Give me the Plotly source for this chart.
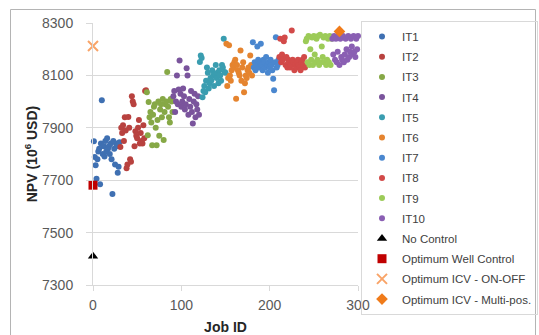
import plotly.graph_objects as go

# ---- data ----
series_names = ["IT1", "IT2", "IT3", "IT4", "IT5", "IT6", "IT7", "IT8", "IT9", "IT10"]
series_colors = ["#3f70b2", "#b8423f", "#86a846", "#7a549c", "#3a9db0",
                 "#e5842f", "#4a87cf", "#d24a49", "#9ccb58", "#8a5fb3"]

it1 = [7849, 7789, 7757, 7706, 7780, 7810, 7820, 7685, 7840, 8005, 7800, 7830, 7790, 7850, 7810,
       7860, 7820, 7830, 7800, 7840, 7780, 7647, 7850, 7820, 7760, 7840, 7830, 7728, 7751, 7845]
it2 = [7827, 7900, 7880, 7910, 7850, 7940, 7890, 7746, 7760, 7941, 7900, 7780, 7770, 8020, 8000,
       7990, 7830, 7887, 7870, 7860, 7900, 7930, 7840, 7880, 7850, 7840, 7910, 7860, 8040, 8043]
it3 = [8036, 7872, 7998, 7940, 7960, 7920, 7833, 7950, 7980, 7990, 7900, 7833, 7930, 8000, 7870,
       7970, 7990, 7940, 8010, 7853, 7960, 7990, 8000, 8113, 7980, 7940, 7920, 8010, 8000, 7960]
it4 = [8020, 8040, 7960, 8000, 8100, 7990, 8046, 8157, 8030, 7980, 8000, 8050, 8020, 7970, 7990,
       8127, 8100, 7950, 8010, 7980, 8040, 7960, 7916, 8000, 8030, 7940, 7990, 7970, 8020, 7950]
it5 = [8151, 8176, 8166, 8017, 8040, 8060, 8036, 8080, 8130, 8110, 8050, 8070, 8090, 8081, 8120,
       8100, 8060, 8106, 8140, 8090, 8110, 8070, 8120, 8100, 8080, 8140, 8130, 8240, 8113, 8110]
it6 = [8221, 8060, 8090, 8215, 8100, 8080, 8120, 8140, 8130, 8150, 8160, 8011, 8140, 8120, 8110,
       8100, 8195, 8080, 8130, 8150, 8036, 8070, 8100, 8090, 8120, 8130, 8110, 8176, 8140, 8100]
it7 = [8227, 8130, 8150, 8120, 8140, 8210, 8160, 8130, 8150, 8221, 8140, 8120, 8160, 8150, 8130,
       8170, 8140, 8110, 8150, 8130, 8160, 8140, 8120, 8087, 8043, 8150, 8246, 8130, 8140, 8160]
it8 = [8170, 8240, 8150, 8180, 8160, 8230, 8245, 8140, 8170, 8130, 8160, 8150, 8130, 8140, 8271,
       8160, 8150, 8120, 8140, 8130, 8150, 8160, 8140, 8130, 8120, 8150, 8160, 8140, 8170, 8130]
it9 = [8230, 8240, 8150, 8250, 8140, 8200, 8160, 8245, 8140, 8250, 8180, 8150, 8240, 8160, 8250,
       8140, 8255, 8150, 8210, 8170, 8245, 8150, 8250, 8140, 8160, 8240, 8150, 8250, 8140, 8240]
it10 = [8240, 8180, 8250, 8160, 8240, 8150, 8190, 8250, 8140, 8240, 8170, 8160, 8250, 8150, 8180,
        8240, 8200, 8160, 8250, 8170, 8190, 8240, 8210, 8180, 8250, 8190, 8170, 8240, 8200, 8250]
series_values = [it1, it2, it3, it4, it5, it6, it7, it8, it9, it10]

no_control = (0, 7410)
opt_well = (0, 7681)
opt_icv_onoff = (0, 8212)
opt_icv_multi = (279, 8268)

x_ticks = [0, 100, 200, 300]
y_ticks = [7300, 7500, 7700, 7900, 8100, 8300]

FONT = "Liberation Sans, Arial, sans-serif"

fig = go.Figure()
job = 1
for name, col, vals in zip(series_names, series_colors, series_values):
    xs = list(range(job, job + len(vals)))
    job += len(vals)
    fig.add_trace(go.Scatter(x=xs, y=vals, mode="markers", name=name, legendgroup=name,
                             marker=dict(color=col, size=6), cliponaxis=False))

fig.add_trace(go.Scatter(x=[no_control[0]], y=[no_control[1]], mode="markers", name="No Control",
                         legendgroup="nc",
                         marker=dict(symbol="triangle-up", color="#000000", size=9), cliponaxis=False))
fig.add_trace(go.Scatter(x=[opt_well[0]], y=[opt_well[1]], mode="markers", name="Optimum Well Control",
                         legendgroup="owc",
                         marker=dict(symbol="square", color="#c00000", size=9), cliponaxis=False))
fig.add_trace(go.Scatter(x=[opt_icv_onoff[0]], y=[opt_icv_onoff[1]], mode="markers", name="Optimum ICV - ON-OFF",
                         legendgroup="onoff",
                         marker=dict(symbol="x-thin-open", size=10, color="#f9a468",
                                     line=dict(color="#f9a468", width=2)),
                         cliponaxis=False))
fig.add_trace(go.Scatter(x=[opt_icv_multi[0]], y=[opt_icv_multi[1]], mode="markers", name="Optimum ICV - Multi-pos.",
                         legendgroup="multi",
                         marker=dict(symbol="diamond", color="#f07b1a", size=9), cliponaxis=False))

axis_font = dict(family=FONT, size=14, color="#595959")
title_font = dict(family=FONT, size=14, color="#262626")
fig.update_layout(
    width=539, height=335,
    margin=dict(l=93, r=181, t=23, b=50, autoexpand=False),
    paper_bgcolor="white", plot_bgcolor="white",
    showlegend=True,
    legend=dict(x=(361 - 93) / 265, y=(285 - 21) / 262, xanchor="left", yanchor="top",
                bordercolor="#d9d9d9", borderwidth=1, maxheight=1.0,
                bgcolor="rgba(255,255,255,0)",
                font=dict(family=FONT, size=11.5, color="#404040"),
                tracegroupgap=1.2),
    xaxis=dict(range=[0, 300], tickvals=x_ticks, showgrid=False, automargin=False,
               showline=True, linecolor="#d9d9d9", linewidth=1,
               ticks="outside", ticklen=5, tickcolor="#d9d9d9",
               tickfont=axis_font, zeroline=False, ticklabelstandoff=2,
               title=dict(text="<b>Job ID</b>", font=title_font, standoff=10)),
    yaxis=dict(range=[7300, 8300], tickvals=y_ticks, showgrid=True, gridcolor="#d9d9d9",
               showline=True, linecolor="#d9d9d9", linewidth=1, automargin=False,
               ticks="outside", ticklen=6, tickcolor="#d9d9d9",
               tickfont=axis_font, zeroline=False, ticklabelstandoff=10,
               title=dict(text="<b>NPV (10<sup>6</sup> USD)</b>", font=title_font, standoff=1)),
    shapes=[dict(type="rect", xref="paper", yref="paper",
                 x0=(10.5 - 93) / 265, x1=(535.5 - 93) / 265, y0=(285 - 345) / 262, y1=(285 - 9.5) / 262,
                 line=dict(color="#b4b4b4", width=1), fillcolor="rgba(0,0,0,0)", layer="above")],
)

fig.write_html("out.html", config={"displayModeBar": False},
               post_script="document.body.style.margin='0';")
